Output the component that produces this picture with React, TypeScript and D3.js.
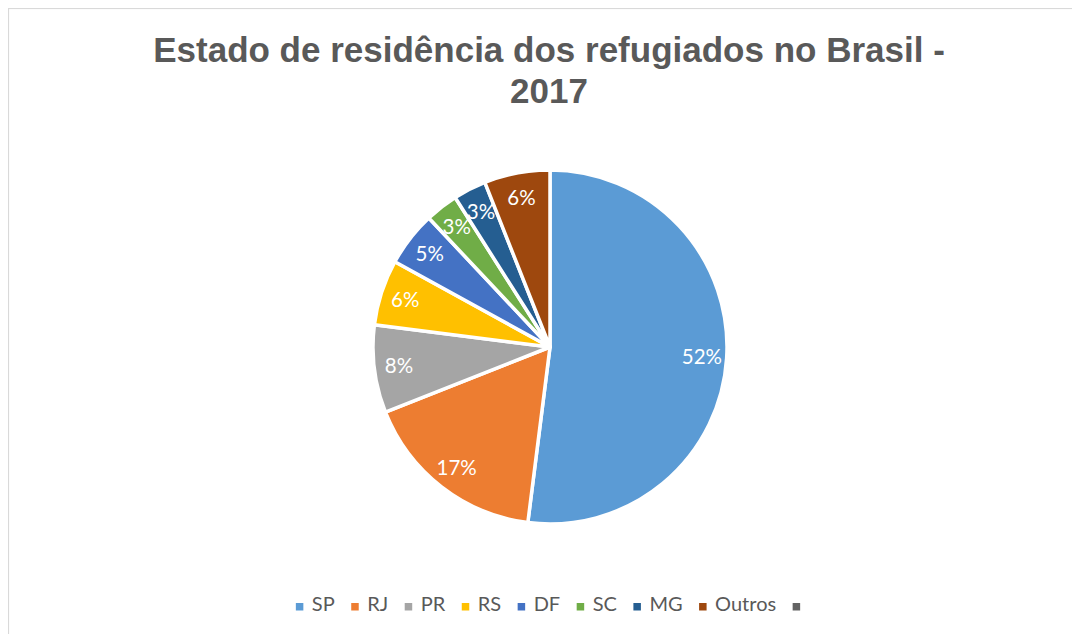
import React, { useEffect, useRef } from "react";
import * as d3 from "d3";

const categories = ["SP", "RJ", "PR", "RS", "DF", "SC", "MG", "Outros", ""];
const values = [52, 17, 8, 6, 5, 3, 3, 6, 0];
const colors = ["#5B9BD5", "#ED7D31", "#A5A5A5", "#FFC000", "#4472C4", "#70AD47", "#255E91", "#9E480E", "#636363"];
const titleLines = ["Estado de residência dos refugiados no Brasil -", "2017"];

const W = 1080;
const H = 634;

export default function App() {
  const ref = useRef<SVGSVGElement>(null);

  useEffect(() => {
    const svg = d3.select(ref.current);
    svg.selectAll("*").remove();
    const g = svg.append("g").attr("transform", "translate(-8,-8)");

    g.append("rect")
      .attr("x", 8.5).attr("y", 8.5)
      .attr("width", 1200).attr("height", 800)
      .attr("fill", "#fff").attr("stroke", "#d9d9d9").attr("stroke-width", 1.2);

    const title = g.append("text")
      .attr("text-anchor", "middle")
      .attr("font-family", "Liberation Sans, Arial, sans-serif")
      .attr("font-weight", "bold")
      .attr("font-size", 35)
      .attr("fill", "#595959");
    titleLines.forEach((t, i) => {
      title.append("tspan").attr("x", 549).attr("y", 62 + i * 41).text(t);
    });

    const cx = 550, cy = 347, r = 177;
    const data = categories.map((c, i) => ({ c, v: values[i], col: colors[i] })).filter(d => d.v > 0);
    const pie = d3.pie<any>().value(d => d.v).sort(null);
    const arcs = pie(data);
    const arc = d3.arc<any>().innerRadius(0).outerRadius(r);
    const labelArc = d3.arc<any>().innerRadius(r * 0.86).outerRadius(r * 0.86);

    const pg = g.append("g").attr("transform", `translate(${cx},${cy})`);
    pg.selectAll("path").data(arcs).enter().append("path")
      .attr("d", arc as any)
      .attr("fill", d => d.data.col)
      .attr("stroke", "#fff").attr("stroke-width", 3.5).attr("stroke-linejoin", "round");

    pg.selectAll("text.lbl").data(arcs).enter().append("text")
      .attr("class", "lbl")
      .attr("transform", d => {
        const [x, y] = labelArc.centroid(d);
        return `translate(${x},${y})`;
      })
      .attr("text-anchor", "middle")
      .attr("dy", "0.36em")
      .attr("font-family", "Lato, Carlito, Calibri, sans-serif")
      .attr("font-size", 20.5)
      .attr("fill", "#fff")
      .text(d => `${d.data.v}%`);

    // legend
    const lg = g.append("g");
    const items = categories.map((c, i) => ({ c, col: colors[i] }));
    const nodes: { w: number; sel: any }[] = [];
    items.forEach(it => {
      const ig = lg.append("g");
      ig.append("rect").attr("x", 0).attr("y", -8).attr("width", 7.5).attr("height", 7.5).attr("fill", it.col);
      const t = ig.append("text").attr("x", 16).attr("y", 0)
        .attr("font-family", "Lato, Carlito, Calibri, sans-serif")
        .attr("font-size", 20).attr("fill", "#595959").text(it.c);
      const tw = it.c ? (t.node() as SVGTextElement).getComputedTextLength() : 0;
      nodes.push({ w: it.c ? 16 + tw : 7.5, sel: ig });
    });
    const gap = 16.5;
    const total = nodes.reduce((s, n) => s + n.w, 0) + gap * (nodes.length - 1);
    let x = 548 - total / 2;
    nodes.forEach(n => {
      n.sel.attr("transform", `translate(${x},611)`);
      x += n.w + gap;
    });
  }, []);

  return <svg ref={ref} width={W - 8} height={H - 8} style={{ display: "block", overflow: "hidden" }} />;
}
